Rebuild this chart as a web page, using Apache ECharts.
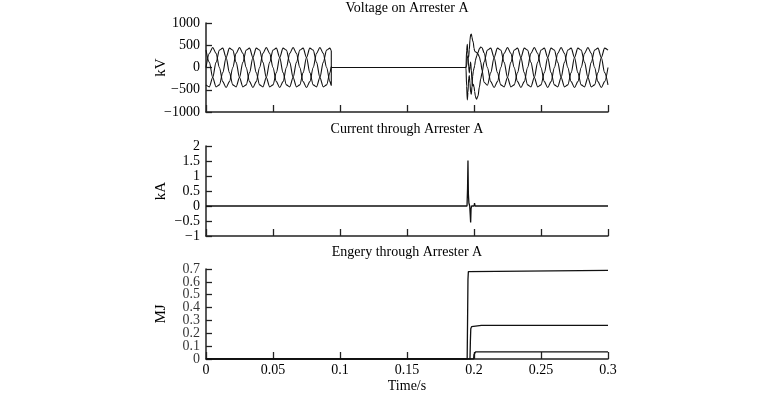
<!DOCTYPE html>
<html>
<head>
<meta charset="utf-8">
<script src="https://cdn.jsdelivr.net/npm/echarts@6/dist/echarts.min.js"></script>
<style>html,body{margin:0;padding:0;background:#fff}#c{width:771px;height:394px}</style>
</head>
<body>
<div id="c"></div>
<script>
// Time samples for the voltage traces (s)
const tV = [
0,0.0025,0.005,0.0075,0.01,0.0125,0.015,0.0175,
0.02,0.0225,0.025,0.0275,0.03,0.0325,0.035,0.0375,
0.04,0.0425,0.045,0.0475,0.05,0.0525,0.055,0.0575,
0.06,0.0625,0.065,0.0675,0.07,0.0725,0.075,0.0775,
0.08,0.0825,0.085,0.0875,0.09,0.0925,
0.0935,0.0935,
0.194,0.1945,0.195,0.1955,0.196,0.1965,0.197,0.1975,0.198,0.1985,0.199,0.1995,
0.2,0.2005,0.201,0.2015,0.202,0.2025,0.203,0.204,0.205,0.206,0.2075,0.21,
0.2125,0.215,0.2175,0.22,0.2225,0.225,0.2275,0.23,
0.2325,0.235,0.2375,0.24,0.2425,0.245,0.2475,0.25,
0.2525,0.255,0.2575,0.26,0.2625,0.265,0.2675,0.27,
0.2725,0.275,0.2775,0.28,0.2825,0.285,0.2875,0.29,
0.2925,0.295,0.2975,0.3
];
// Phase voltages (kV)
const vA = [
0,318,450,318,0,-318,-450,-318,
0,318,450,318,0,-318,-450,-318,
0,318,450,318,0,-318,-450,-318,
0,318,450,318,0,-318,-450,-318,
0,318,450,318,0,-318,
-401,0,
0,-420,-730,-560,-250,-180,-350,-560,-600,-420,-200,-80,
-20,40,150,210,260,300,340,420,460,445,330,0,
-318,-450,-318,0,318,450,318,0,
-318,-450,-318,0,318,450,318,0,
-318,-450,-318,0,318,450,318,0,
-318,-450,-318,0,318,450,318,0,
-318,-450,-318,0
];
const vB = [
-390,-435,-225,116,390,435,225,-116,
-390,-435,-225,116,390,435,225,-116,
-390,-435,-225,116,390,435,225,-116,
-390,-435,-225,116,390,435,225,-116,
-390,-435,-225,116,390,435,
377,0,
0,380,520,300,20,-120,30,120,-60,-300,-420,-380,
-430,-540,-640,-690,-710,-715,-640,-440,-260,-120,120,390,
435,225,-116,-390,-435,-225,116,390,
435,225,-116,-390,-435,-225,116,390,
435,225,-116,-390,-435,-225,116,390,
435,225,-116,-390,-435,-225,116,390,
435,225,-116,-390
];
const vC = [
390,116,-225,-435,-390,-116,225,435,
390,116,-225,-435,-390,-116,225,435,
390,116,-225,-435,-390,-116,225,435,
390,116,-225,-435,-390,-116,225,435,
390,116,-225,-435,-390,-116,
24,0,
0,40,210,260,230,400,620,740,750,680,600,560,
430,370,355,345,335,320,300,240,120,-60,-330,-400,
-116,225,435,390,116,-225,-435,-390,
-116,225,435,390,116,-225,-435,-390,
-116,225,435,390,116,-225,-435,-390,
-116,225,435,390,116,-225,-435,-390,
-116,225,435,390
];
// Arrester current (kA)
const tI = [0,0.1948,0.1952,0.1955,0.1958,0.1962,0.1968,0.1972,0.1975,0.1978,0.1982,0.2001,0.2004,0.2008,0.2055,0.2057,0.2059,0.3];
const iA = [0,0,0.6,1.52,0.4,0.1,0,-0.3,-0.55,-0.1,0,0,0.1,0,0,0.05,0,0];
// Arrester energy (MJ)
const tE1 = [0,0.1949,0.1952,0.1955,0.1958,0.1966,0.3];
const e1  = [0,0,0.3,0.62,0.68,0.69,0.69];
const tE2 = [0,0.1970,0.1973,0.1976,0.1982,0.2055,0.3];
const e2  = [0,0,0.14,0.235,0.252,0.262,0.262];
const tE3 = [0,0.1997,0.2000,0.2003,0.2012,0.3];
const e3  = [0,0,0.035,0.05,0.055,0.056];
// Tick labels of the energy axis (drawn as text at the axis)
const mjTicks = [0,0.1,0.2,0.3,0.4,0.5,0.6,0.7];
// Axis setup
const xTicks = {min:0, max:0.3, interval:0.05};
const yRanges = [{min:-1000,max:1000,interval:500,name:'kV'},{min:-1,max:2,interval:0.5,name:'kA'},{min:0,max:0.7,interval:0.1,name:'MJ'}];
const titles = ['Voltage on Arrester A','Current through Arrester A','Engery through Arrester A'];

const FONT = 'Liberation Serif';
const INK = '#111';
const gridTops = [23,146,269];
const gridHeights = [89,90,90];
const titleTops = [1,122,245];

const pair = (ts, vs) => ts.map((t,i)=>[t, vs[i]]);
const fmt = v => String(+(+v).toFixed(3)).replace('-', '\u2212');

const lineSeries = [
  {d:pair(tV,vA),g:0},{d:pair(tV,vB),g:0},{d:pair(tV,vC),g:0},
  {d:pair(tI,iA),g:1},
  {d:pair(tE1,e1),g:2},{d:pair(tE2,e2),g:2},{d:pair(tE3,e3),g:2}
].map(s=>({type:'line', xAxisIndex:s.g, yAxisIndex:s.g, data:s.d, symbol:'none',
   smooth: s.g===0 ? 0.3 : false, smoothMonotone:'x',
   lineStyle:{color:INK, width: s.g===0 ? 1.1 : 1.3}}));

const mjLabelSeries = {
  type:'scatter', xAxisIndex:2, yAxisIndex:2, silent:true, symbolSize:0, clip:false,
  data: mjTicks.map(v=>[0, v]),
  label:{show:true, position:'left', distance:6, formatter:p=>fmt(p.value[1]),
         fontFamily:FONT, fontSize:14, color:'#000'},
  labelLayout:{hideOverlap:false}
};

const option = {
  animation:false,
  backgroundColor:'#fff',
  title: titles.map((t,i)=>({text:t, left:407, top:titleTops[i], textAlign:'center', padding:0,
     textStyle:{fontFamily:FONT, fontSize:14, fontWeight:'normal', color:'#000'}})),
  grid: gridTops.map((top,i)=>({left:206, top:top, width:402, height:gridHeights[i], containLabel:false})),
  xAxis: [0,1,2].map(i=>({
    type:'value', gridIndex:i, min:xTicks.min, max:xTicks.max, interval:xTicks.interval,
    axisLine:{show:true, onZero:false, lineStyle:{color:'#222', width:1.5}},
    axisTick:{show:true, inside:true, length:7, lineStyle:{color:'#222', width:1.3}},
    splitLine:{show:false},
    axisLabel:{show:i===2, formatter:fmt, fontFamily:FONT, fontSize:14, color:'#000', margin:4,
               showMinLabel:true, showMaxLabel:true},
    name: i===2 ? 'Time/s' : '', nameLocation:'middle', nameGap:20, nameMoveOverlap:false,
    nameTextStyle:{fontFamily:FONT, fontSize:14, color:'#000'}
  })),
  yAxis: yRanges.map((r,i)=>({
    type:'value', gridIndex:i, min:r.min, max:r.max, interval:r.interval,
    axisLine:{show:true, onZero:false, lineStyle:{color:'#222', width:1.5}},
    axisTick:{show:true, inside:true, length:6, lineStyle:{color:'#222', width:1.3}},
    splitLine:{show:false},
    axisLabel:{show:i!==2, formatter:fmt, fontFamily:FONT, fontSize:14, color:'#000', margin:6,
               showMinLabel:true, showMaxLabel:true},
    name:r.name, nameLocation:'middle', nameGap:37, nameRotate:90, nameMoveOverlap:false,
    nameTextStyle:{fontFamily:FONT, fontSize:15, color:'#000'}
  })),
  series: lineSeries.concat([mjLabelSeries])
};
echarts.init(document.getElementById('c'), null, {renderer:'canvas'}).setOption(option);
</script>
</body>
</html>
